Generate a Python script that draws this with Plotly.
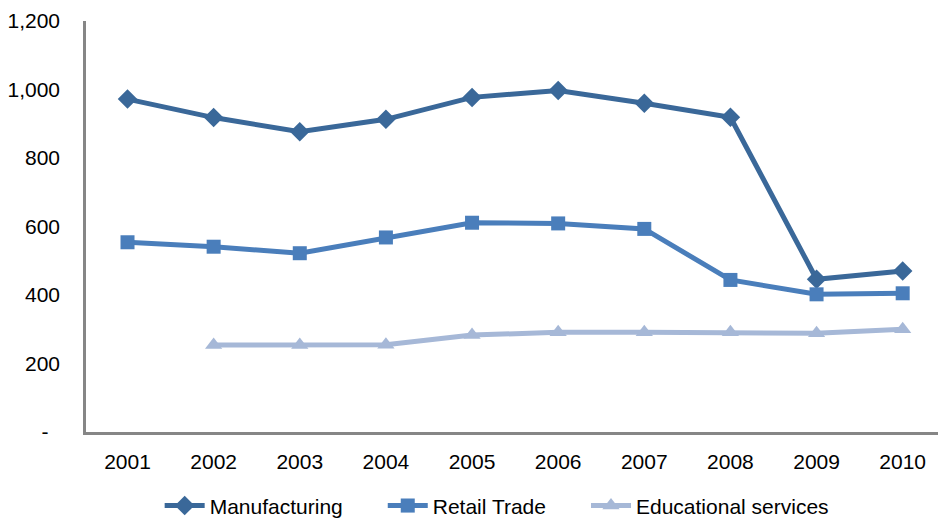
import plotly.graph_objects as go

years = ["2001", "2002", "2003", "2004", "2005", "2006", "2007", "2008", "2009", "2010"]
manufacturing = [972, 918, 877, 913, 977, 997, 960, 919, 446, 470]
retail_trade = [554, 541, 522, 568, 611, 609, 593, 444, 402, 405]
educational = [None, 254, 254, 255, 283, 291, 291, 291, 288, 300]

y_tickvals = [0, 200, 400, 600, 800, 1000, 1200]
y_ticktext = ["-\u00a0\u00a0", "200", "400", "600", "800", "1,000", "1,200"]

font_family = "Liberation Sans, Arial, Helvetica, sans-serif"
pad = "\u00a0" * 6

fig = go.Figure()
fig.add_trace(go.Scatter(
    x=years, y=manufacturing, name="Manufacturing" + pad, mode="lines+markers",
    line=dict(color="#3A6899", width=5),
    marker=dict(symbol="diamond", size=15, color="#3A6899"),
))
fig.add_trace(go.Scatter(
    x=years, y=retail_trade, name="Retail Trade" + pad, mode="lines+markers",
    line=dict(color="#4A7EBB", width=5),
    marker=dict(symbol="square", size=14, color="#4A7EBB"),
))
fig.add_trace(go.Scatter(
    x=years, y=educational, name="Educational services", mode="lines+markers",
    line=dict(color="#A6B8D7", width=5),
    marker=dict(symbol="triangle-up", size=15, color="#A6B8D7"),
))

fig.update_layout(
    width=938, height=522,
    margin=dict(l=86, r=0, t=21, b=90, autoexpand=False),
    paper_bgcolor="white", plot_bgcolor="white",
    font=dict(family=font_family, size=21, color="black"),
    showlegend=True,
    legend=dict(orientation="h", x=0.482, xanchor="center", y=-0.13, yanchor="top",
                font=dict(size=21), itemwidth=40, tracegroupgap=0),
    xaxis=dict(
        type="category", range=[-0.482, 9.41], automargin=False,
        showline=True, linecolor="#868686", linewidth=2.5,
        showgrid=False, zeroline=False, ticks="", ticklabelstandoff=9,
    ),
    yaxis=dict(
        range=[0, 1200], tickvals=y_tickvals, ticktext=y_ticktext, automargin=False,
        showline=True, linecolor="#868686", linewidth=2.5,
        showgrid=False, zeroline=False, ticks="", ticklabelstandoff=19,
    ),
)

fig.write_html("out.html", config={"displayModeBar": False},
               post_script="document.body.style.margin='0';")
